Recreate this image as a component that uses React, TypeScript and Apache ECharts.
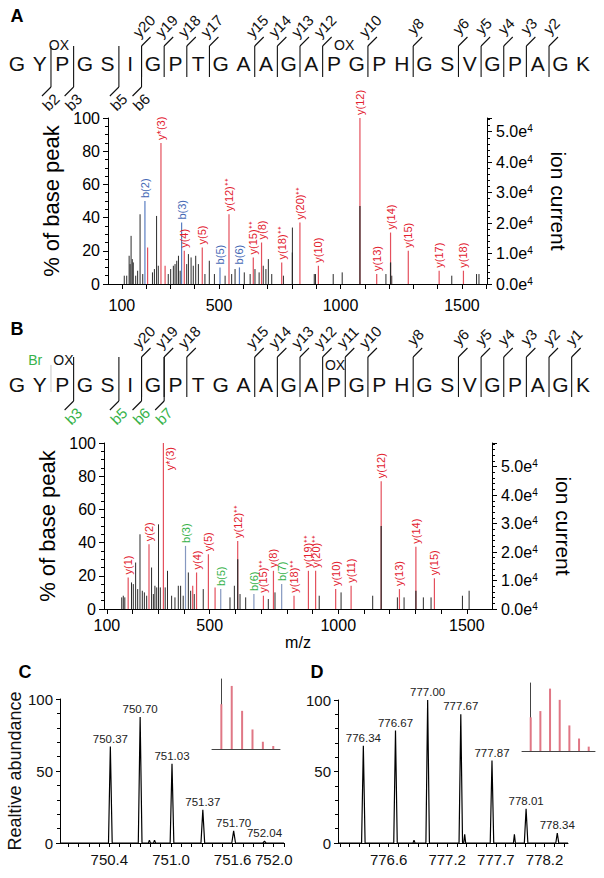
import React, { useEffect, useRef } from 'react';
import * as echarts from 'echarts';

const FONT = '"Liberation Sans", Arial, Helvetica, sans-serif';

// ---------- peptide sequence and fragment ions ----------
const sequence = ['G','Y','P','G','S','I','G','P','T','G','A','A','G','A','P','G','P','H','G','S','V','G','P','A','G','K'];
const aYIons = [20, 19, 18, 17, 15, 14, 13, 12, 10, 8, 6, 5, 4, 3, 2];
const aBIons = [2, 3, 5, 6];
const aModText = ['OX', 'OX'];
const aModResidue = [2, 14];
const bYIons = [20, 19, 18, 15, 14, 13, 12, 11, 10, 8, 6, 5, 4, 3, 2, 1];
const bBIons = [3, 5, 6, 7];
const bModText = ['Br', 'OX', 'OX'];
const bModResidue = [1, 2, 14];

// ---------- spectrum A ----------
const aIonLabel = ['b(2)','y*(3)','b(3)','y(4)','y(5)','b(5)','y(12)⁺⁺','b(6)','y(15)⁺⁺','y(8)','y(18)⁺⁺','y(20)⁺⁺','y(10)','y(12)','y(13)','y(14)','y(15)','y(17)','y(18)'];
const aIonMz = [195, 261, 346, 357, 431, 504, 541, 584, 641, 675, 758, 833, 909, 1080, 1149, 1206, 1279, 1406, 1506];
const aIonPct = [50, 85, 37, 20, 22, 10, 42, 10, 16, 25, 13, 37, 11, 100, 6, 31, 20, 8, 8];
const aRedMz = [206, 278];
const aRedPct = [22, 11];
const aNoiseMz = [110,120,130,134,138,143,147,157,165,175,186,226,234,243,250,291,301,312,319,326,333,340,367,374,385,394,404,415,442,460,481,525,552,566,604,628,648,665,682,693,703,717,765,802,892,897,970,1007,1187,1211,1458,1560,1570];
const aNoisePct = [5,5,17,12,29,15,13,5,8,42,6,7,9,41,11,6,9,11,12,14,17,8,12,18,16,11,17,12,6,14,6,5,6,9,7,6,9,7,11,9,15,6,5,34,6,6,6,7,6,5,5,6,6];
const aOverlayMz = [802, 1080, 1206];
const aOverlayPct = [19, 47, 13];
const aIonCurrentMax = 54500;

// ---------- spectrum B ----------
const bIonLabel = ['y(1)','y(2)','y*(3)','b(3)','y(4)','y(5)','b(5)','y(12)⁺⁺','b(6)','y(15)⁺⁺','y(8)','b(7)','y(18)⁺⁺','y(19)⁺⁺','y(20)⁺⁺','y(10)','y(11)','y(12)','y(13)','y(14)','y(15)'];
const bIonMz = [183, 264, 320, 406, 449, 495, 543, 609, 672, 709, 748, 780, 828, 884, 912, 990, 1050, 1167, 1238, 1302, 1374];
const bIonPct = [19, 39, 100, 38, 22, 33, 12, 41, 9, 8, 23, 15, 8, 23, 23, 12, 14, 77, 12, 37.5, 18.5];
const bRedMz = [434, 521];
const bRedPct = [14, 13];
const bNoiseMz = [158,164,170,196,203,212,220,229,238,246,255,274,281,287,294,301,308,327,336,352,365,378,387,397,417,426,440,475,579,596,618,640,728,754,926,1011,1134,1230,1256,1331,1361,1483,1509];
const bNoisePct = [7,8,7,16,15,28,12,45,11,10,8,25,9,14,13,51,13,13,23,8,7,14,14,8,22,11,9,12,7,14,9,7,6,10,8,10,8,7,7,7,7,8,11];
const bOverlayMz = [609, 1167, 1302];
const bOverlayPct = [30, 50, 11];
const bIonCurrentMax = 58300;

const specTickValues = [100,200,300,400,500,600,700,800,900,1000,1100,1200,1300,1400,1500,1600];
const specLabelValues = [100, 500, 1000, 1500];

// ---------- panel C ----------
const cProfileMz  = [749.92, 750.392, 750.41, 750.428, 750.682, 750.70, 750.718, 750.78, 750.79, 750.80, 750.83, 750.84, 750.85, 750.992, 751.01, 751.028, 751.292, 751.31, 751.328, 751.592, 751.61, 751.628, 751.895, 751.91, 751.925, 752.10];
const cProfilePct = [0, 0, 67, 0, 0, 87.5, 0, 0, 2, 0, 0, 2, 0, 0, 55, 0, 0, 23, 0, 0, 8.4, 0, 0, 1.2, 0, 0];
const cPeakMz = [750.41, 750.70, 751.01, 751.31, 751.61, 751.91];
const cPeakPct = [67, 87.5, 55, 23, 8.4, 1.2];
const cPeakText = ['750.37', '750.70', '751.03', '751.37', '751.70', '752.04'];
const cAxisLabels = [750.4, 751.0, 751.6, 752.0];
const cInsetPct = [71, 100, 60.5, 31, 11.5, 4.7];

// ---------- panel D ----------
const dProfileMz  = [776.08, 776.322, 776.34, 776.358, 776.652, 776.67, 776.688, 776.85, 776.86, 776.87, 776.982, 777.00, 777.018, 777.322, 777.34, 777.358, 777.37, 777.38, 777.39, 777.642, 777.66, 777.678, 777.88, 777.89, 777.90, 777.992, 778.01, 778.028, 778.315, 778.33, 778.345, 778.44];
const dProfilePct = [0, 0, 68, 0, 0, 78.6, 0, 0, 2, 0, 0, 100, 0, 0, 90, 0, 0, 6, 0, 0, 57.6, 0, 0, 6, 0, 0, 24, 0, 0, 7, 0, 0];
const dPeakMz = [776.34, 776.67, 777.00, 777.34, 777.66, 778.01, 778.33];
const dPeakPct = [68, 78.6, 100, 90, 57.6, 24, 7];
const dPeakText = ['776.34', '776.67', '777.00', '777.67', '777.87', '778.01', '778.34'];
const dAxisLabels = [776.6, 777.2, 777.7, 778.2];
const dInsetPct = [54, 64, 100, 82, 41, 20, 7];

// ---------- layout / style ----------
const BAND_A = { top: 0, letterY: 63, yTop: 46, yBot: 77, bTop: 46, bBot: 87, modY: 45 };
const BAND_B = { top: 320, letterY: 384, yTop: 357, yBot: 397, bTop: 357, bBot: 401, modY: 360 };
const MOD_DX_A = [-0.15, 0.45];
const MOD_DX_B = [-0.2, 0.05, 0.05];
const MOD_Y_B = [0, 0, 5];
const RED_LINE = '#e4505d';
const RED_TEXT = '#e2202e';
const BLUE_LINE = '#5a7ec2';
const BLUE_TEXT = '#4569b5';
const GREEN_TEXT = '#37b24a';
const BGRAY_LINE = '#8598c0';
const BLACK = '#000';

function range(a: number, b: number, step: number) {
  const out: number[] = [];
  for (let v = a; v <= b + 1e-9; v += step) out.push(Math.round(v * 10) / 10);
  return out;
}

const axisLine = { show: true, onZero: false, lineStyle: { color: BLACK, width: 1 } };
const tickStyle = { color: BLACK, width: 1 };

function seqAxes(gridIndex: number) {
  return {
    x: { type: 'value', gridIndex, min: -0.5, max: 25.5, show: false },
    y: { type: 'value', gridIndex, min: 0, max: 120, inverse: true, show: false },
  };
}

function seqSeries(xi: number, yi: number, band: any, yIons: number[], bIons: number[], modText: string[], modRes: number[], modDx: number[], modDy: number[], extraGray: number[]) {
  const off = band.top;
  const lw = 1.1;
  const ink = '#111';
  const series: any[] = [];
  series.push({
    type: 'custom', xAxisIndex: xi, yAxisIndex: yi, clip: false, silent: true,
    data: sequence.map((_, i) => [i]),
    renderItem: (params: any, api: any) => {
      const p = api.coord([api.value(0), band.letterY - off]);
      return { type: 'text', x: p[0], y: p[1], style: { text: sequence[params.dataIndex], fontSize: 21, fontFamily: FONT, fill: ink, align: 'center', verticalAlign: 'middle' } };
    },
  });
  if (extraGray.length) {
    series.push({
      type: 'custom', xAxisIndex: xi, yAxisIndex: yi, clip: false, silent: true,
      data: extraGray.map((k) => [k - 0.5]),
      renderItem: (params: any, api: any) => {
        const t = api.coord([api.value(0), band.yTop + 8 - off]);
        const b = api.coord([api.value(0), band.letterY + 8 - off]);
        return { type: 'line', shape: { x1: t[0], y1: t[1], x2: b[0], y2: b[1] }, style: { stroke: '#c8c8c8', lineWidth: 1 } };
      },
    });
  }
  series.push({
    type: 'custom', xAxisIndex: xi, yAxisIndex: yi, clip: false, silent: true,
    data: yIons.map((k) => [25.5 - k, k]),
    renderItem: (params: any, api: any) => {
      const t = api.coord([api.value(0), band.yTop - off]);
      const b = api.coord([api.value(0), band.yBot - off]);
      const ex = t[0] + 9, ey = t[1] - 9;
      return {
        type: 'group', children: [
          { type: 'line', shape: { x1: b[0], y1: b[1], x2: t[0], y2: t[1] }, style: { stroke: ink, lineWidth: lw } },
          { type: 'line', shape: { x1: t[0], y1: t[1], x2: ex, y2: ey }, style: { stroke: ink, lineWidth: lw } },
          { type: 'text', x: ex - 1.4, y: ey - 5.7, rotation: Math.PI / 4, style: { text: 'y' + api.value(1), fontSize: 15, fontFamily: FONT, fill: ink, align: 'center', verticalAlign: 'bottom' } },
        ],
      };
    },
  });
  const bColor = band === BAND_B ? GREEN_TEXT : ink;
  series.push({
    type: 'custom', xAxisIndex: xi, yAxisIndex: yi, clip: false, silent: true,
    data: bIons.map((k) => [k - 0.5, k]),
    renderItem: (params: any, api: any) => {
      const t = api.coord([api.value(0), band.bTop - off]);
      const b = api.coord([api.value(0), band.bBot - off]);
      const ex = b[0] - 9, ey = b[1] + 9;
      return {
        type: 'group', children: [
          { type: 'line', shape: { x1: t[0], y1: t[1], x2: b[0], y2: b[1] }, style: { stroke: ink, lineWidth: lw } },
          { type: 'line', shape: { x1: b[0], y1: b[1], x2: ex, y2: ey }, style: { stroke: ink, lineWidth: lw } },
          { type: 'text', x: ex + 3.5, y: ey + 0.7, rotation: Math.PI / 4, style: { text: 'b' + api.value(1), fontSize: 15, fontFamily: FONT, fill: bColor, align: 'center', verticalAlign: 'top' } },
        ],
      };
    },
  });
  series.push({
    type: 'custom', xAxisIndex: xi, yAxisIndex: yi, clip: false, silent: true,
    data: modRes.map((r) => [r]),
    renderItem: (params: any, api: any) => {
      const i = params.dataIndex;
      const p = api.coord([api.value(0) + modDx[i], band.modY + modDy[i] - off]);
      const txt = modText[i];
      return { type: 'text', x: p[0], y: p[1], style: { text: txt, fontSize: 14, fontFamily: FONT, fill: txt === 'Br' ? GREEN_TEXT : ink, align: 'center', verticalAlign: 'middle' } };
    },
  });
  return series;
}

function stickSeries(xi: number, yi: number, xs: number[], ys: number[], color: string, width: number, z = 2) {
  return {
    type: 'custom', xAxisIndex: xi, yAxisIndex: yi, clip: false, silent: true, z,
    data: xs.map((x, i) => [x, ys[i]]),
    renderItem: (params: any, api: any) => {
      const p0 = api.coord([api.value(0), 0]);
      const p1 = api.coord([api.value(0), api.value(1)]);
      return { type: 'line', shape: { x1: p0[0], y1: p0[1], x2: p1[0], y2: p1[1] }, style: { stroke: color, lineWidth: width } };
    },
  };
}

// annotated fragment peaks: coloured stick plus a vertical label above it
// (a full-height peak gets its label beside the top of the line instead)
function ionSeries(xi: number, yi: number, mz: number[], pct: number[], labels: string[], bLine: string, bText: string, besideFull: boolean) {
  return {
    type: 'custom', xAxisIndex: xi, yAxisIndex: yi, clip: false, silent: true, z: 3,
    data: mz.map((m, i) => [m, pct[i]]),
    renderItem: (params: any, api: any) => {
      const lab = labels[params.dataIndex];
      const isB = lab.charAt(0) === 'b';
      const p0 = api.coord([api.value(0), 0]);
      const p1 = api.coord([api.value(0), api.value(1)]);
      const beside = besideFull && api.value(1) >= 99;
      const text = beside
        ? { type: 'text', x: p1[0] + 7, y: p1[1] + 4, rotation: Math.PI / 2, style: { text: lab, fill: isB ? bText : RED_TEXT, fontSize: 11, fontFamily: FONT, align: 'right', verticalAlign: 'middle' } }
        : { type: 'text', x: p1[0], y: p1[1] - 3, rotation: Math.PI / 2, style: { text: lab, fill: isB ? bText : RED_TEXT, fontSize: 11, fontFamily: FONT, align: 'left', verticalAlign: 'middle' } };
      return {
        type: 'group', children: [
          { type: 'line', shape: { x1: p0[0], y1: p0[1], x2: p1[0], y2: p1[1] }, style: { stroke: isB ? bLine : RED_LINE, lineWidth: 1.2 } },
          text,
        ],
      };
    },
  };
}

function peakLabelSeries(xi: number, yi: number, mz: number[], pct: number[], text: string[]) {
  return {
    type: 'custom', xAxisIndex: xi, yAxisIndex: yi, clip: false, silent: true,
    data: mz.map((m, i) => [m, pct[i]]),
    renderItem: (params: any, api: any) => {
      const p = api.coord([api.value(0), api.value(1)]);
      return { type: 'text', x: p[0], y: p[1] - 2, style: { text: text[params.dataIndex], fontSize: 11.5, fontFamily: FONT, fill: '#222', align: 'center', verticalAlign: 'bottom' } };
    },
  };
}

function specXAxis(gridIndex: number, min: number, max: number, margin: number) {
  return {
    type: 'value', gridIndex, min, max,
    axisLine, splitLine: { show: false },
    axisTick: { show: true, length: 5, lineStyle: tickStyle, customValues: specTickValues.filter((v) => v >= min && v <= max) },
    axisLabel: { show: true, customValues: specLabelValues, formatter: (v: number) => String(v), color: BLACK, fontFamily: FONT, fontSize: 16, margin },
  };
}

function specLeftAxis(gridIndex: number, nameGap: number) {
  return {
    type: 'value', gridIndex, position: 'left', min: 0, max: 100, interval: 20,
    axisLine, splitLine: { show: false },
    axisTick: { show: true, length: 5, lineStyle: tickStyle },
    minorTick: { show: true, splitNumber: 4, length: 3, lineStyle: tickStyle },
    axisLabel: { color: BLACK, fontFamily: FONT, fontSize: 16, margin: 8 },
    name: '% of base peak', nameLocation: 'middle', nameGap,
    nameTextStyle: { color: BLACK, fontFamily: FONT, fontSize: 22 },
  };
}

function specRightAxis(gridIndex: number, max: number, nameGap: number) {
  return {
    type: 'value', gridIndex, position: 'right', min: 0, max, interval: 10000,
    axisLine, splitLine: { show: false },
    axisTick: { show: true, length: 5, lineStyle: tickStyle },
    minorTick: { show: true, splitNumber: 5, length: 3, lineStyle: tickStyle },
    axisLabel: {
      margin: 9,
      formatter: (v: number) => (v % 10000 === 0 ? `{n|${(v / 10000).toFixed(1)}e}{s|4}` : ''),
      rich: {
        n: { fontSize: 16, fontFamily: FONT, color: BLACK },
        s: { fontSize: 10, fontFamily: FONT, color: BLACK, verticalAlign: 'top' },
      },
    },
    name: 'ion current', nameLocation: 'middle', nameRotate: -90, nameGap,
    nameTextStyle: { color: BLACK, fontFamily: FONT, fontSize: 21 },
  };
}

function profileXAxis(gridIndex: number, min: number, max: number, labels: number[]) {
  return {
    type: 'value', gridIndex, min, max,
    axisLine, splitLine: { show: false },
    axisTick: { show: true, length: 4, lineStyle: tickStyle, customValues: range(Math.ceil(min * 10) / 10, max, 0.1) },
    axisLabel: { customValues: labels, formatter: (v: number) => v.toFixed(1), color: '#111', fontFamily: FONT, fontSize: 15, margin: 9 },
  };
}

function profileYAxis(gridIndex: number, name: string) {
  return {
    type: 'value', gridIndex, min: 0, max: 100, interval: 50,
    axisLine, splitLine: { show: false },
    axisTick: { show: true, length: 4, lineStyle: tickStyle },
    minorTick: { show: true, splitNumber: 5, length: 3, lineStyle: tickStyle },
    axisLabel: { color: '#111', fontFamily: FONT, fontSize: 15, margin: 7 },
    name, nameLocation: 'middle', nameGap: 35,
    nameTextStyle: { color: '#111', fontFamily: FONT, fontSize: 18 },
  };
}

function insetAxes(gridIndex: number, n: number, max: number) {
  return {
    x: { type: 'value', gridIndex, min: -0.9, max: n - 1 + 0.65, axisLine: { show: true, onZero: false, lineStyle: { color: '#444', width: 1 } }, axisTick: { show: false }, axisLabel: { show: false }, splitLine: { show: false } },
    y: { type: 'value', gridIndex, min: 0, max, axisLine: { show: true, lineStyle: { color: '#444', width: 1 } }, axisTick: { show: false }, axisLabel: { show: false }, splitLine: { show: false } },
  };
}

function buildOption() {
  const sA = seqAxes(0);
  const sB = seqAxes(2);
  const insC = insetAxes(5, cInsetPct.length, 111);
  const insD = insetAxes(7, dInsetPct.length, 109);
  const grid = [
    { left: 5.7, width: 588.6, top: 0, height: 120 },
    { left: 108, right: 117, top: 118, height: 166 },
    { left: 5.7, width: 588.6, top: 320, height: 120 },
    { left: 104, right: 112, top: 443, height: 166 },
    { left: 60, right: 320, top: 699, height: 144 },
    { left: 212, top: 679, width: 68, height: 70 },
    { left: 338, right: 36, top: 700, height: 143 },
    { left: 522, top: 683, width: 73, height: 68 },
  ];
  const xAxis = [
    sA.x,
    specXAxis(1, 43, 1603, 13),
    sB.x,
    specXAxis(3, 89, 1598, 8),
    profileXAxis(4, 749.92, 752.1, cAxisLabels),
    insC.x,
    profileXAxis(6, 776.08, 778.44, dAxisLabels),
    insD.x,
  ];
  const yAxis = [
    sA.y,
    specLeftAxis(1, 42),
    specRightAxis(1, aIonCurrentMax, 61),
    sB.y,
    specLeftAxis(3, 41),
    specRightAxis(3, bIonCurrentMax, 61),
    profileYAxis(4, 'Realtive abundance'),
    insC.y,
    profileYAxis(6, ''),
    insD.y,
  ];
  const series: any[] = [
    ...seqSeries(0, 0, BAND_A, aYIons, aBIons, aModText, aModResidue, MOD_DX_A, [0, 0], []),
    ...seqSeries(2, 3, BAND_B, bYIons, bBIons, bModText, bModResidue, MOD_DX_B, MOD_Y_B, [2]),
    stickSeries(1, 1, aNoiseMz, aNoisePct, '#2b2b2b', 1),
    stickSeries(1, 1, aRedMz, aRedPct, RED_LINE, 1.2),
    ionSeries(1, 1, aIonMz, aIonPct, aIonLabel, BLUE_LINE, BLUE_TEXT, false),
    stickSeries(1, 1, aOverlayMz, aOverlayPct, '#2b2b2b', 1.2, 4),
    stickSeries(3, 4, bNoiseMz, bNoisePct, '#2b2b2b', 1),
    stickSeries(3, 4, bRedMz, bRedPct, RED_LINE, 1.2),
    ionSeries(3, 4, bIonMz, bIonPct, bIonLabel, BGRAY_LINE, GREEN_TEXT, true),
    stickSeries(3, 4, bOverlayMz, bOverlayPct, '#2b2b2b', 1.2, 4),
    {
      type: 'line', xAxisIndex: 4, yAxisIndex: 6, showSymbol: false, silent: true,
      data: cProfileMz.map((m, i) => [m, cProfilePct[i]]),
      lineStyle: { color: '#000', width: 1.2 },
    },
    peakLabelSeries(4, 6, cPeakMz, cPeakPct, cPeakText),
    stickSeries(5, 7, cInsetPct.map((_, i) => i), cInsetPct, '#e07785', 2),
    {
      type: 'line', xAxisIndex: 6, yAxisIndex: 8, showSymbol: false, silent: true,
      data: dProfileMz.map((m, i) => [m, dProfilePct[i]]),
      lineStyle: { color: '#000', width: 1.2 },
    },
    peakLabelSeries(6, 8, dPeakMz, dPeakPct, dPeakText),
    stickSeries(7, 9, dInsetPct.map((_, i) => i), dInsetPct, '#e07785', 2),
  ];
  const letter = (t: string, x: number, y: number) => ({
    type: 'text', x, y, style: { text: t, fontSize: 18, fontWeight: 'bold', fontFamily: FONT, fill: '#000', align: 'center', verticalAlign: 'middle' },
  });
  return {
    animation: false,
    backgroundColor: '#fff',
    grid, xAxis, yAxis, series,
    graphic: [
      letter('A', 17, 16),
      letter('B', 17, 329),
      letter('C', 25, 672),
      letter('D', 317, 672),
      { type: 'text', x: 298, y: 642, style: { text: 'm/z', fontSize: 16, fontFamily: FONT, fill: '#000', align: 'center', verticalAlign: 'middle' } },
    ],
  };
}

export default function App() {
  const ref = useRef<HTMLDivElement>(null);
  useEffect(() => {
    const chart = echarts.init(ref.current as HTMLDivElement, undefined, { renderer: 'svg' });
    chart.setOption(buildOption() as any);
    return () => chart.dispose();
  }, []);
  return <div ref={ref} style={{ position: 'absolute', left: 0, top: 0, width: 604, height: 878, background: '#fff' }} />;
}
